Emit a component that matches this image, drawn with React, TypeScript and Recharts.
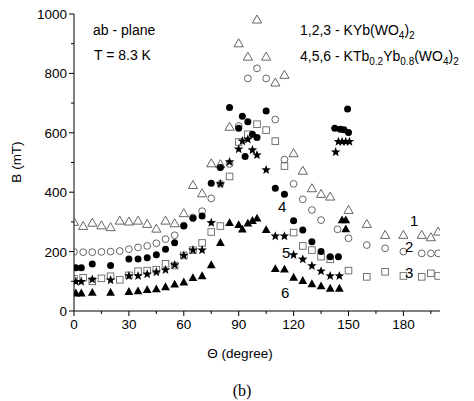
import React from 'react';
import { ScatterChart, Scatter, XAxis, YAxis } from 'recharts';

// Curve 1: KYb(WO4)2, open triangles
const angles1 = [0, 5, 10, 15, 20, 25, 30, 35, 40, 45, 50, 55, 60, 65, 70, 75, 80, 85, 90, 95, 100, 105, 110, 115, 120, 125, 130, 135, 140, 150, 160, 170, 180, 190, 195, 199];
const field1 = [300, 286, 297, 288, 282, 304, 301, 304, 293, 277, 304, 295, 329, 424, 396, 497, 494, 620, 901, 856, 981, 856, 769, 795, 531, 472, 413, 394, 385, 340, 293, 256, 256, 256, 248, 267];

// Curve 2: KYb(WO4)2, open circles
const angles2 = [0, 5, 10, 15, 20, 25, 30, 35, 40, 45, 50, 55, 60, 65, 70, 75, 80, 85, 90, 95, 100, 105, 110, 115, 120, 125, 130, 135, 144, 150, 160, 170, 180, 190, 195, 199];
const field2 = [199, 198, 198, 199, 200, 202, 208, 214, 219, 228, 242, 255, 288, 315, 336, 379, 428, 495, 623, 783, 817, 783, 645, 510, 428, 376, 340, 306, 275, 245, 222, 211, 200, 194, 194, 194];

// Curve 3: KYb(WO4)2, open squares
const angles3 = [0, 5, 10, 15, 20, 25, 30, 35, 40, 45, 50, 55, 60, 65, 70, 75, 80, 85, 90, 95, 100, 105, 110, 115, 120, 125, 130, 135, 140, 150, 160, 170, 180, 190, 195, 199];
const field3 = [108, 112, 100, 110, 117, 105, 120, 134, 136, 139, 159, 153, 187, 205, 229, 266, 286, 453, 569, 595, 629, 609, 572, 488, 264, 219, 205, 183, 174, 136, 115, 132, 118, 115, 127, 118];

// Curve 4: KTb0.2Yb0.8(WO4)2, filled circles
const angles4 = [1, 4, 10, 20, 30, 35, 40, 45, 50, 55, 60, 65, 70, 75, 80, 85, 90, 92, 93.5, 95, 97.5, 100, 105, 110, 115, 120, 125, 130, 135, 140, 144.5, 142.5, 145.5, 147.5, 150, 149.5];
const field4 = [146, 146, 158, 153, 175, 175, 179, 189, 208, 230, 286, 312, 320, 430, 483, 685, 615, 656, 520, 637, 595, 584, 673, 413, 393, 304, 273, 233, 200, 183, 183, 615, 612, 610, 601, 680];

// Curve 5: KTb0.2Yb0.8(WO4)2, stars
const angles5 = [1, 4, 10, 20, 30, 35, 40, 45, 50, 55, 60, 65, 70, 75, 80, 85, 90, 92, 95, 97.5, 100, 105, 110, 115, 120, 125, 130, 135, 140, 145, 143, 144.5, 146.5, 148.5, 150.5];
const field5 = [99, 99, 106, 104, 118, 118, 124, 131, 138, 155, 187, 205, 205, 297, 428, 502, 545, 572, 578, 542, 525, 475, 252, 252, 189, 174, 152, 134, 118, 118, 535, 570, 570, 570, 570];

// Curve 6: KTb0.2Yb0.8(WO4)2, filled triangles
const angles6 = [1, 4, 10, 20, 30, 35, 40, 45, 50, 55, 60, 65, 70, 75, 80, 85, 90, 92, 95, 97.5, 100, 105, 110, 115, 120, 125, 130, 135, 140, 145, 146.5, 148.5, 148.5];
const field6 = [60, 60, 62, 62, 65, 67, 71, 74, 81, 90, 97, 112, 118, 155, 230, 297, 290, 275, 295, 304, 312, 273, 142, 140, 113, 102, 91, 84, 76, 76, 306, 306, 276];

const xTicks = [0, 15, 30, 45, 60, 75, 90, 105, 120, 135, 150, 165, 180, 195];
const yTicks = [0, 100, 200, 300, 400, 500, 600, 700, 800, 900, 1000];

const FONT = 'Arial, "Liberation Sans", sans-serif';

const zip = (xs: number[], ys: number[]) => xs.map((x, i) => ({ x, y: ys[i] }));

type Kind = 'openTri' | 'openCircle' | 'openSquare' | 'dot' | 'star' | 'tri';

const starPath = (cx: number, cy: number, ro: number, ri: number) => {
  const pts: string[] = [];
  for (let i = 0; i < 10; i++) {
    const r = i % 2 === 0 ? ro : ri;
    const a = -Math.PI / 2 + (i * Math.PI) / 5;
    pts.push(`${(cx + r * Math.cos(a)).toFixed(2)},${(cy + r * Math.sin(a)).toFixed(2)}`);
  }
  return 'M' + pts.join('L') + 'Z';
};

const marker = (kind: Kind) => (props: any) => {
  const { cx, cy } = props;
  if (cx == null || cy == null) return <g />;
  switch (kind) {
    case 'openTri':
      return <polygon points={`${cx},${cy - 4.6} ${cx - 4.6},${cy + 3.4} ${cx + 4.6},${cy + 3.4}`} fill="#fff" fillOpacity={0} stroke="#555" strokeWidth={0.9} />;
    case 'openCircle':
      return <circle cx={cx} cy={cy} r={3.4} fill="none" stroke="#555" strokeWidth={0.9} />;
    case 'openSquare':
      return <rect x={cx - 3.3} y={cy - 3.3} width={6.6} height={6.6} fill="none" stroke="#666" strokeWidth={0.9} />;
    case 'dot':
      return <circle cx={cx} cy={cy} r={3.5} fill="#000" />;
    case 'star':
      return <path d={starPath(cx, cy, 5, 2.1)} fill="#000" />;
    case 'tri':
      return <polygon points={`${cx},${cy - 4.6} ${cx - 4.4},${cy + 3.2} ${cx + 4.4},${cy + 3.2}`} fill="#000" />;
  }
};

// major ticks every 30 degrees carry a label, minor ones in between are shorter
const XTick = (props: any) => {
  const { x, y, payload } = props;
  const major = payload.value % 30 === 0;
  return (
    <g>
      <line x1={x} y1={y} x2={x} y2={y + (major ? 5 : 3)} stroke="#000" strokeWidth={1} />
      {major && (
        <text x={x} y={y + 18} textAnchor="middle" fontFamily={FONT} fontSize={13.5} fill="#000">
          {payload.value}
        </text>
      )}
    </g>
  );
};

const YTick = (props: any) => {
  const { x, y, payload } = props;
  const major = payload.value % 200 === 0;
  return (
    <g>
      <line x1={x} y1={y} x2={x - (major ? 5 : 3)} y2={y} stroke="#000" strokeWidth={1} />
      {major && (
        <text x={x - 7} y={y + 5} textAnchor="end" fontFamily={FONT} fontSize={13.5} fill="#000">
          {payload.value}
        </text>
      )}
    </g>
  );
};

const txt = { fontFamily: FONT, fontSize: 14, fill: '#000' } as const;

export default function App() {
  return (
    <div style={{ position: 'absolute', left: 0, top: 0, width: 474, height: 401, background: '#fff' }}>
      <ScatterChart width={474} height={401} margin={{ top: 14, right: 34, bottom: 60, left: 14 }}>
        <XAxis
          type="number"
          dataKey="x"
          domain={[0, 200]}
          ticks={xTicks}
          interval={0}
          allowDataOverflow
          tickSize={0}
          tickMargin={0}
          tick={<XTick />}
          axisLine={{ stroke: '#000', strokeWidth: 1 }}
          height={30}
        />
        <YAxis
          type="number"
          dataKey="y"
          domain={[0, 1000]}
          ticks={yTicks}
          interval={0}
          tickSize={0}
          tickMargin={0}
          tick={<YTick />}
          axisLine={{ stroke: '#000', strokeWidth: 1 }}
          width={60}
        />
        <Scatter data={zip(angles1, field1)} shape={marker('openTri')} isAnimationActive={false} />
        <Scatter data={zip(angles2, field2)} shape={marker('openCircle')} isAnimationActive={false} />
        <Scatter data={zip(angles3, field3)} shape={marker('openSquare')} isAnimationActive={false} />
        <Scatter data={zip(angles4, field4)} shape={marker('dot')} isAnimationActive={false} />
        <Scatter data={zip(angles5, field5)} shape={marker('star')} isAnimationActive={false} />
        <Scatter data={zip(angles6, field6)} shape={marker('tri')} isAnimationActive={false} />
      </ScatterChart>
      <svg width={474} height={401} style={{ position: 'absolute', left: 0, top: 0, pointerEvents: 'none' }}>
        <text x={93} y={35} {...txt}>ab - plane</text>
        <text x={94} y={60} {...txt}>T = 8.3 K</text>
        <text x={300} y={35} {...txt}>
          1,2,3 - KYb(WO
          <tspan fontSize={10} dy={4}>4</tspan>
          <tspan dy={-4}>)</tspan>
          <tspan fontSize={10} dy={4}>2</tspan>
        </text>
        <text x={300} y={61} {...txt}>
          4,5,6 - KTb
          <tspan fontSize={10} dy={4}>0.2</tspan>
          <tspan dy={-4}>Yb</tspan>
          <tspan fontSize={10} dy={4}>0.8</tspan>
          <tspan dy={-4}>(WO</tspan>
          <tspan fontSize={10} dy={4}>4</tspan>
          <tspan dy={-4}>)</tspan>
          <tspan fontSize={10} dy={4}>2</tspan>
        </text>
        <text x={410} y={226} {...txt} fontSize={15}>1</text>
        <text x={405} y={252} {...txt} fontSize={15}>2</text>
        <text x={405} y={278} {...txt} fontSize={15}>3</text>
        <text x={278} y={212} {...txt} fontSize={15}>4</text>
        <text x={282} y={258} {...txt} fontSize={15}>5</text>
        <text x={281} y={298} {...txt} fontSize={15}>6</text>
        <text x={240} y={358} textAnchor="middle" fontFamily={FONT} fontSize={13.5}>Θ (degree)</text>
        <text x={21} y={162} textAnchor="middle" fontFamily={FONT} fontSize={13.5} transform="rotate(-90 21 162)">B (mT)</text>
        <text x={242} y={396} textAnchor="middle" fontFamily='"Liberation Serif", "Times New Roman", serif' fontSize={16}>(b)</text>
      </svg>
    </div>
  );
}
